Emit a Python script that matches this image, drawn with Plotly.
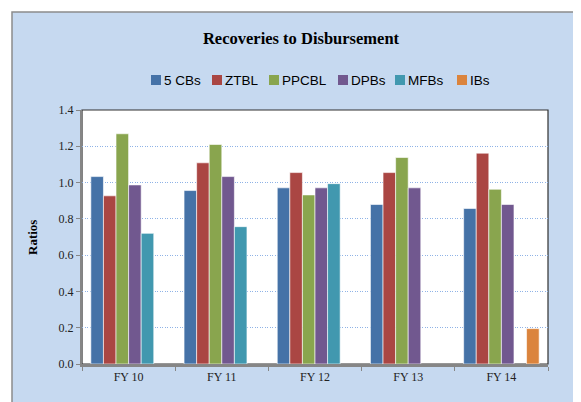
import plotly.graph_objects as go

categories = ["FY 10", "FY 11", "FY 12", "FY 13", "FY 14"]
cbs5 = [1.033, 0.956, 0.971, 0.879, 0.857]
ztbl = [0.927, 1.109, 1.055, 1.055, 1.162]
ppcbl = [1.269, 1.210, 0.932, 1.138, 0.963]
dpbs = [0.987, 1.033, 0.971, 0.971, 0.879]
mfbs = [0.720, 0.757, 0.994, None, None]
ibs = [None, None, None, None, 0.195]

series_names = ["5 CBs", "ZTBL", "PPCBL", "DPBs", "MFBs", "IBs"]
series_values = [cbs5, ztbl, ppcbl, dpbs, mfbs, ibs]
series_colors = ["#4572A7", "#AA4643", "#89A54E", "#71588F", "#4198AF", "#DB843D"]

W, H = 581, 402
OFF = 8  # page body margin offset
# target plot area in window pixels: x 82..548, y 110..364
PX0, PX1, PY0, PY1 = 82, 548, 110, 364
L, T = PX0 - OFF, PY0 - OFF
pw, ph = PX1 - PX0, PY1 - PY0
R, B = W - L - pw, H - T - ph


def px_x(p):
    return (p - PX0) / pw


def px_y(p):
    return (PY1 - p) / ph


fig = go.Figure()
for name, vals, color in zip(series_names, series_values, series_colors):
    fig.add_trace(go.Bar(
        name=name, x=categories, y=vals,
        marker=dict(color=color, line=dict(color="white", width=0.6)),
    ))

serif = "Liberation Serif, Times New Roman, serif"
sans = "Liberation Sans, Arial, sans-serif"

shapes = [
    dict(type="rect", xref="paper", yref="paper", layer="below",
         x0=px_x(12), x1=px_x(640), y0=px_y(460), y1=px_y(12),
         fillcolor="#C6D9F0", line=dict(color="#8C8C8C", width=1.5)),
    dict(type="rect", xref="paper", yref="paper", layer="below",
         x0=0, x1=1, y0=0, y1=1,
         fillcolor="white", line=dict(color="#303030", width=1.2)),
]
annotations = [
    dict(text="<b>Ratios</b>", xref="paper", yref="paper", x=px_x(32), y=px_y(238),
         textangle=-90, showarrow=False, xanchor="center", yanchor="middle",
         font=dict(family=serif, size=13, color="black")),
]

# manual legend (swatch left edges in window px)
legend_x = [151, 212, 269, 338, 395, 457]
legend_y = 80
for name, color, lx in zip(series_names, series_colors, legend_x):
    shapes.append(dict(type="rect", xref="paper", yref="paper", layer="above",
                       x0=px_x(lx), x1=px_x(lx + 10), y0=px_y(legend_y + 5), y1=px_y(legend_y - 5),
                       fillcolor=color, line=dict(width=0)))
    annotations.append(dict(text=name, xref="paper", yref="paper",
                            x=px_x(lx + 11), y=px_y(legend_y), xanchor="left", yanchor="middle",
                            showarrow=False, font=dict(family=sans, size=13.5, color="black")))

fig.update_layout(
    width=W, height=H,
    margin=dict(l=L, r=R, t=T, b=B, autoexpand=False),
    paper_bgcolor="white",
    plot_bgcolor="rgba(0,0,0,0)",
    barmode="group",
    bargap=0.19,
    bargroupgap=0,
    showlegend=False,
    title=dict(text="<b>Recoveries to Disbursement</b>", x=(301 - OFF) / W, xanchor="center",
               y=1 - (38 - OFF) / H, yanchor="middle",
               font=dict(family=serif, size=16.5, color="black")),
    shapes=shapes,
    annotations=annotations,
)

fig.update_yaxes(
    range=[0, 1.4], dtick=0.2, tickformat=".1f",
    showgrid=True, gridcolor="#8FB3E6", griddash="1px,1.5px", gridwidth=1,
    showline=True, linecolor="#868686", linewidth=2,
    ticks="outside", ticklen=4, tickcolor="#868686",
    tickfont=dict(family=serif, size=12, color="#222"),
    zeroline=False,
)
fig.update_xaxes(
    showline=True, linecolor="#868686", linewidth=2.5,
    ticks="outside", tickson="boundaries", ticklen=4, tickcolor="#868686",
    tickfont=dict(family=serif, size=12, color="#222"),
    showgrid=False,
)

fig.write_html("out.html")
